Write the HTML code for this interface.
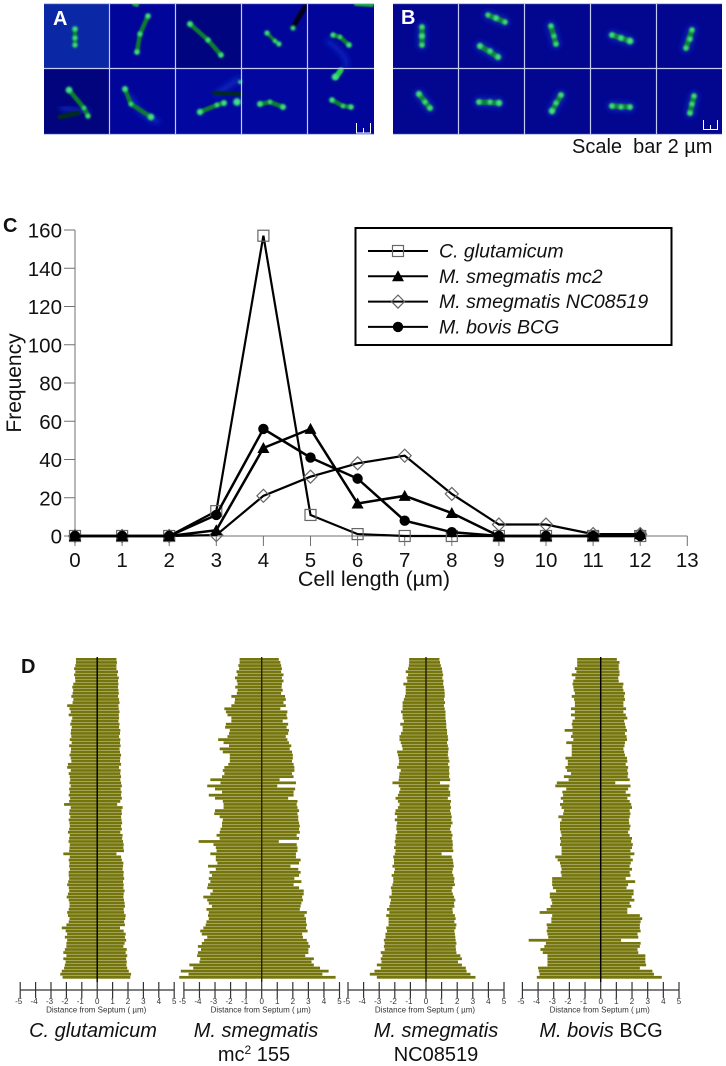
<!DOCTYPE html>
<html>
<head>
<meta charset="utf-8">
<title>Cell length figure</title>
<style>
html,body{margin:0;padding:0;background:#fff;}
svg{display:block;}
text{font-family:"Liberation Sans",sans-serif;}
</style>
</head>
<body>
<svg id="fig" xmlns="http://www.w3.org/2000/svg" width="726" height="1066" viewBox="0 0 726 1066">
<defs>
<filter id="b1" x="-80%" y="-80%" width="260%" height="260%"><feGaussianBlur stdDeviation="1.0"/></filter>
<filter id="b2" x="-50%" y="-50%" width="200%" height="200%"><feGaussianBlur stdDeviation="0.8"/></filter>
<filter id="b3" x="-50%" y="-50%" width="200%" height="200%"><feGaussianBlur stdDeviation="3"/></filter>
<filter id="barsoft" x="-5%" y="-2%" width="110%" height="104%"><feGaussianBlur stdDeviation="0.3"/></filter>
<clipPath id="clipA"><rect x="44" y="3" width="330" height="132"/></clipPath>
<clipPath id="clipB"><rect x="393" y="3" width="329" height="132"/></clipPath>
</defs>

<g id="panelA" clip-path="url(#clipA)">
<rect x="44" y="3" width="330" height="132" fill="#02059a"/>
<rect x="44" y="3" width="66" height="66" fill="#0a28a6"/>
<rect x="176" y="3" width="66" height="66" fill="#00047f"/>
<rect x="44" y="69" width="66" height="66" fill="#01047c"/>
<rect x="242" y="69" width="66" height="66" fill="#0207a0"/>
<rect x="176" y="69" width="66" height="66" fill="#0207a0"/>
<path d="M326 40 Q352 58 345 68" stroke="#0c2ac8" stroke-width="4" fill="none" filter="url(#b3)"/>
<path d="M130 95 Q140 118 160 122" stroke="#0a26c0" stroke-width="5" fill="none" filter="url(#b3)"/>
<path d="M215 95 L240 78" stroke="#0c2ac0" stroke-width="5" fill="none" filter="url(#b3)"/>
<path d="M60 108 L90 112" stroke="#0b28c0" stroke-width="5" fill="none" filter="url(#b3)"/>
<g fill="none" stroke-linecap="round" filter="url(#b2)">
<path d="M293 27 L305 7" stroke="#020414" stroke-width="5"/>
<path d="M214 93 L241 94" stroke="#03291e" stroke-width="4"/>
<path d="M60 117 L78 113" stroke="#032a20" stroke-width="5"/>
<path d="M75 29 L75 45" stroke="#0c7a33" stroke-width="4.5"/>
<path d="M148 16 L140 34 L137 52" stroke="#0c7a33" stroke-width="4.5"/>
<path d="M190 24 L208 40 L221 55" stroke="#0c7a33" stroke-width="4.5"/>
<path d="M267 33 L275 41 L279 44" stroke="#0c7a33" stroke-width="3.5"/>
<path d="M333 35 L340 37 L349 45" stroke="#0c7a33" stroke-width="4.5"/>
<path d="M69 90 L84 108 L88 116" stroke="#0c7a33" stroke-width="4.5"/>
<path d="M125 89 L131 104 L151 117" stroke="#0c7a33" stroke-width="4.5"/>
<path d="M200 112 L217 105 L224 103" stroke="#0c7a33" stroke-width="4.5"/>
<path d="M260 104 L270 102 L283 107" stroke="#0c7a33" stroke-width="4.5"/>
<path d="M332 100 L343 106 L351 107" stroke="#0c7a33" stroke-width="4.5"/>
<path d="M336 77 L341 70" stroke="#1fd04a" stroke-width="5.5"/>
<path d="M356 4 L372 5" stroke="#17a83e" stroke-width="4"/>
<path d="M134 4 L137 5" stroke="#17a83e" stroke-width="4"/>
</g>
<g fill="#45e08a" stroke="#30d070" stroke-width="0.8" filter="url(#b1)">
<circle cx="75" cy="29" r="2.4"/><circle cx="75" cy="38" r="2.2"/><circle cx="75" cy="45" r="2.2"/>
<circle cx="148" cy="16" r="2.4"/><circle cx="140" cy="34" r="2.2"/><circle cx="137" cy="52" r="2.4"/>
<circle cx="190" cy="24" r="2.6"/><circle cx="208" cy="40" r="2.2"/><circle cx="221" cy="55" r="2.4"/>
<circle cx="267" cy="33" r="2.2"/><circle cx="275" cy="41" r="1.8"/><circle cx="279" cy="44" r="2.2"/><circle cx="293" cy="28" r="2.2"/>
<circle cx="333" cy="35" r="2.2"/><circle cx="340" cy="37" r="1.8"/><circle cx="349" cy="45" r="2.4"/>
<circle cx="69" cy="90" r="3"/><circle cx="84" cy="108" r="1.8"/><circle cx="88" cy="116" r="2.2"/>
<circle cx="125" cy="89" r="2.6"/><circle cx="131" cy="104" r="2"/><circle cx="151" cy="117" r="3"/>
<circle cx="200" cy="112" r="2.8"/><circle cx="217" cy="105" r="2"/><circle cx="224" cy="103" r="2.6"/><circle cx="237" cy="102" r="3.5"/><circle cx="240" cy="82" r="1.6"/>
<circle cx="260" cy="104" r="2.6"/><circle cx="270" cy="102" r="1.8"/><circle cx="283" cy="107" r="2.6"/>
<circle cx="332" cy="100" r="2.4"/><circle cx="343" cy="106" r="1.8"/><circle cx="351" cy="107" r="2.4"/><circle cx="335" cy="77" r="3"/>
</g>
<g stroke="#c4cbf0" stroke-width="1.2">
<path d="M109.5 3V135M175.5 3V135M241.5 3V135M307.5 3V135M44 68.5H374M44 3.5H374M44 134.5H374"/>
</g>
<path d="M356.5 123V133H370.5V123M363.5 128V133" fill="none" stroke="#fff" stroke-width="1"/>
</g>
<text x="53" y="25" font-size="20" font-weight="bold" fill="#fff">A</text>

<g id="panelB" clip-path="url(#clipB)">
<rect x="393" y="3" width="329" height="132" fill="#03068f"/>
<g fill="none" stroke="#0b1fb0" stroke-width="11" stroke-linecap="round" filter="url(#b3)">
<path d="M422 27L422 45M488 15L505 22M480 46L498 57M551 26L556 44M612 35L630 41M692 30L686 48M419 94L430 108M479 102L499 103M561 95L552 111M612 106L630 107M694 96L690 113"/>
</g>
<g fill="none" stroke="#0b7f3c" stroke-width="5.5" stroke-linecap="round" filter="url(#b2)">
<path d="M422 27L422 45M488 15L505 22M480 46L498 57M551 26L556 44M612 35L630 41M692 30L686 48M419 94L430 108M479 102L499 103M561 95L552 111M612 106L630 107M694 96L690 113"/>
</g>
<g fill="#45e08a" stroke="#30d070" stroke-width="0.8" filter="url(#b1)">
<circle cx="422" cy="27" r="2.2"/><circle cx="422" cy="36" r="2.6"/><circle cx="422" cy="45" r="2.2"/>
<circle cx="488" cy="15" r="2"/><circle cx="496" cy="18" r="2.6"/><circle cx="505" cy="22" r="2.2"/>
<circle cx="480" cy="46" r="2.6"/><circle cx="490" cy="51" r="2.4"/><circle cx="498" cy="57" r="2.6"/>
<circle cx="551" cy="26" r="2.2"/><circle cx="554" cy="36" r="2"/><circle cx="556" cy="44" r="2.2"/>
<circle cx="612" cy="35" r="2.4"/><circle cx="621" cy="38" r="2.6"/><circle cx="630" cy="41" r="3"/>
<circle cx="692" cy="30" r="2.2"/><circle cx="690" cy="39" r="2.4"/><circle cx="686" cy="48" r="2.2"/>
<circle cx="419" cy="94" r="2.6"/><circle cx="425" cy="102" r="2.2"/><circle cx="430" cy="108" r="2.4"/>
<circle cx="479" cy="102" r="2.4"/><circle cx="490" cy="102" r="2.2"/><circle cx="499" cy="103" r="2.8"/>
<circle cx="561" cy="95" r="2.4"/><circle cx="556" cy="103" r="2.2"/><circle cx="552" cy="111" r="2.8"/>
<circle cx="612" cy="106" r="2.4"/><circle cx="621" cy="107" r="2.2"/><circle cx="630" cy="107" r="2.4"/>
<circle cx="694" cy="96" r="2.2"/><circle cx="692" cy="104" r="2.2"/><circle cx="690" cy="113" r="2.4"/>
</g>
<g stroke="#c4cbf0" stroke-width="1.2">
<path d="M458.5 3V135M524.5 3V135M590.5 3V135M656.5 3V135M393 68.5H722M393 3.5H722M393 134.5H722"/>
</g>
<path d="M703.5 120V129.5H717.5V120M710.5 125V129.5" fill="none" stroke="#fff" stroke-width="1"/>
</g>
<text x="401" y="24" font-size="20" font-weight="bold" fill="#fff">B</text>
<text x="572" y="153" font-size="20" fill="#111" xml:space="preserve">Scale  bar 2 µm</text>

<text x="3" y="232" font-size="20" font-weight="bold" fill="#111">C</text>
<text x="21" y="673" font-size="20" font-weight="bold" fill="#111">D</text>

<g id="chartC"></g>
<g id="chartD"></g>
</svg>

<script>
// ---- Panel C data ----
var lengthCategories = [0,1,2,3,4,5,6,7,8,9,10,11,12];
var xTickLabels = [0,1,2,3,4,5,6,7,8,9,10,11,12,13];
var yTickLabels = [0,20,40,60,80,100,120,140,160];
var freqGlutamicum = [0,0,0,13,157,11,1,0,0,0,0,0,0];
var freqSmegmatisMc2 = [0,0,0,3,46,56,17,21,12,0,0,0,1];
var freqSmegmatisNC = [0,0,0,0.5,21,31,38,42,22,6,6,1,1];
var freqBovis = [0,0,0,11,56,41,30,8,2,0,0,0,0];

// ---- Panel D data: per-cell extent left/right of septum (µm), top row to bottom row ----
var distanceTicks = [-5,-4,-3,-2,-1,0,1,2,3,4,5];
var glutLeft = [-1.38,-1.38,-1.42,-1.5,-1.42,-1.5,-1.44,-1.42,-1.55,-1.62,-1.56,-1.6,-1.68,-1.55,-1.6,-1.95,-1.8,-1.72,-1.85,-1.62,-1.68,-1.75,-1.65,-1.7,-1.72,-1.68,-1.78,-1.66,-1.82,-1.7,-1.72,-1.8,-1.72,-1.68,-1.9,-1.95,-1.72,-1.85,-1.78,-1.75,-1.8,-1.72,-1.82,-1.78,-1.85,-1.76,-1.82,-2.15,-1.72,-1.8,-1.82,-1.75,-1.85,-1.8,-1.78,-1.82,-1.9,-1.78,-1.82,-1.86,-1.78,-1.8,-1.82,-2.2,-1.78,-1.85,-1.8,-1.82,-1.78,-1.85,-1.85,-1.82,-1.88,-1.95,-1.85,-1.82,-1.9,-1.98,-1.85,-1.8,-1.8,-1.85,-1.95,-1.9,-1.8,-1.85,-2.0,-2.3,-2.05,-1.95,-2.1,-1.95,-2.0,-2.0,-2.1,-2.2,-2.0,-2.2,-2.05,-2.1,-2.15,-2.3,-2.4,-2.25];
var glutRight = [1.25,1.28,1.25,1.25,1.35,1.3,1.4,1.35,1.38,1.35,1.38,1.4,1.35,1.42,1.45,1.38,1.4,1.45,1.4,1.42,1.38,1.45,1.42,1.5,1.48,1.42,1.5,1.48,1.52,1.45,1.48,1.55,1.5,1.48,1.55,1.42,1.52,1.5,1.55,1.5,1.55,1.6,1.52,1.58,1.55,1.6,1.5,1.3,1.65,1.58,1.6,1.55,1.58,1.62,1.55,1.6,1.5,1.65,1.62,1.68,1.72,1.7,1.74,1.25,1.55,1.6,1.7,1.68,1.65,1.72,1.7,1.75,1.68,1.72,1.7,1.78,1.72,1.7,1.74,1.78,1.8,1.72,1.75,1.85,1.82,1.75,1.8,1.48,1.72,1.85,1.8,1.88,1.78,1.7,1.92,1.85,1.95,1.88,1.92,1.9,1.95,2.05,2.2,2.15];
var mc2Left = [-1.42,-1.42,-1.5,-1.45,-1.62,-1.55,-1.72,-1.6,-1.55,-1.7,-1.55,-1.6,-1.95,-1.72,-1.75,-1.95,-2.4,-2.3,-2.2,-1.95,-1.95,-2.3,-2.35,-2.05,-2.1,-2.2,-2.8,-2.45,-2.1,-2.7,-2.5,-2.05,-2.05,-2.05,-2.15,-2.4,-2.5,-2.4,-2.55,-3.3,-2.65,-3.5,-3.0,-2.55,-3.4,-3.0,-2.5,-2.45,-2.45,-3.0,-3.05,-2.7,-2.5,-2.55,-2.55,-2.65,-2.7,-2.9,-2.7,-4.05,-3.1,-2.95,-2.9,-3.3,-2.95,-2.95,-2.85,-3.45,-2.95,-3.35,-3.2,-3.4,-3.3,-3.45,-3.5,-3.15,-3.3,-3.75,-3.5,-3.4,-3.2,-3.55,-3.4,-3.45,-3.4,-3.55,-3.6,-3.75,-3.95,-3.85,-3.5,-3.7,-3.85,-4.1,-3.9,-4.1,-4.15,-3.95,-4.0,-4.65,-4.4,-5.2,-4.7,-5.3];
var mc2Right = [1.1,1.2,1.25,1.3,1.25,1.4,1.3,1.4,1.3,1.28,1.35,1.25,1.5,1.55,1.4,1.55,1.2,1.65,1.6,1.65,1.35,1.7,1.6,1.75,1.7,1.55,1.65,1.75,1.9,1.8,1.95,2.0,2.0,1.95,2.05,2.1,2.1,1.95,2.05,1.15,2.2,1.0,2.15,2.05,2.05,1.7,2.3,2.25,2.3,2.4,2.3,2.35,2.35,2.4,2.45,2.4,2.45,2.25,2.4,1.1,2.25,2.3,2.3,2.2,2.2,2.5,2.4,1.85,2.35,2.5,2.4,2.1,2.55,2.05,2.4,2.7,2.7,2.6,2.65,2.55,2.5,2.45,2.9,2.75,2.85,2.85,2.9,2.85,2.95,2.6,2.65,2.9,3.0,3.1,3.0,3.0,2.8,3.35,3.2,3.35,3.75,4.3,3.9,4.75];
var ncLeft = [-1.08,-1.08,-1.1,-1.15,-1.3,-1.15,-1.25,-1.2,-1.45,-1.3,-1.3,-1.3,-1.35,-1.42,-1.5,-1.5,-1.5,-1.6,-1.5,-1.5,-1.42,-1.65,-1.5,-1.5,-1.6,-1.7,-1.7,-1.62,-1.55,-1.5,-1.85,-1.8,-1.75,-1.72,-1.75,-1.85,-1.62,-1.7,-1.72,-1.75,-2.15,-1.75,-1.65,-1.72,-1.8,-1.95,-1.8,-1.7,-1.8,-1.95,-2.0,-1.85,-2.0,-1.85,-1.9,-1.9,-1.85,-1.95,-1.95,-2.0,-1.95,-2.05,-1.95,-2.0,-2.1,-2.05,-2.05,-2.15,-2.0,-2.05,-2.2,-2.1,-2.1,-2.15,-2.25,-2.2,-2.2,-2.35,-2.25,-2.3,-2.35,-2.5,-2.35,-2.55,-2.4,-2.4,-2.4,-2.55,-2.5,-2.6,-2.6,-2.7,-2.65,-2.7,-2.65,-2.9,-2.8,-2.9,-2.85,-3.15,-2.9,-3.3,-3.6,-3.15];
var ncRight = [0.86,0.9,0.95,1.02,1.05,1.1,1.05,1.12,1.1,1.15,1.18,1.2,1.2,1.15,1.22,1.15,1.2,1.25,1.25,1.25,1.28,1.3,1.3,1.35,1.35,1.4,1.42,1.35,1.4,1.45,1.42,1.4,1.45,1.5,1.42,1.5,1.48,1.5,1.48,1.55,0.9,1.5,1.45,1.55,1.55,1.4,1.6,1.55,1.6,1.55,1.6,1.65,1.62,1.7,1.6,1.55,1.62,1.7,1.65,1.7,1.72,1.7,1.75,1.0,1.65,1.72,1.75,1.78,1.72,1.68,1.75,1.82,1.8,1.85,1.7,1.65,1.72,1.8,1.88,1.8,1.82,1.7,1.72,1.85,1.9,1.82,1.95,1.9,1.82,1.85,1.88,1.9,1.95,1.9,1.92,1.95,2.2,2.3,2.05,2.3,2.55,2.6,2.85,3.17];
var bovisLeft = [-1.5,-1.5,-1.5,-1.65,-1.55,-1.85,-1.62,-1.75,-1.8,-1.75,-1.72,-1.65,-1.85,-1.7,-1.65,-1.65,-1.9,-1.65,-1.9,-1.65,-1.8,-1.85,-1.8,-2.3,-1.8,-1.9,-1.75,-2.2,-1.85,-1.85,-1.85,-1.85,-2.25,-2.1,-2.1,-2.25,-2.15,-1.9,-2.35,-2.05,-2.8,-2.9,-2.2,-2.45,-2.4,-2.55,-2.4,-2.6,-2.5,-2.35,-2.4,-2.7,-2.5,-2.6,-2.6,-2.6,-2.55,-2.5,-2.6,-2.55,-2.6,-2.5,-2.5,-2.5,-2.9,-2.75,-2.6,-2.55,-2.5,-2.55,-2.5,-3.1,-3.1,-3.1,-3.05,-2.85,-3.25,-3.25,-3.15,-3.1,-3.2,-3.45,-3.9,-3.1,-3.15,-3.15,-3.45,-3.4,-3.45,-3.4,-3.35,-4.6,-3.5,-3.6,-3.85,-3.7,-3.4,-3.4,-3.4,-3.4,-4.0,-3.95,-3.9,-4.08];
var bovisRight = [1.03,1.2,1.15,1.15,1.2,1.2,1.12,1.15,1.45,1.4,1.45,1.55,1.5,1.55,1.45,1.45,1.62,1.45,1.6,1.7,1.5,1.55,1.6,1.68,1.55,1.65,1.68,1.55,1.52,1.45,1.5,1.55,1.68,1.7,1.6,1.75,1.7,1.75,1.72,1.85,0.93,1.9,1.75,1.6,1.9,1.7,1.85,1.95,2.0,1.85,1.9,1.85,1.8,1.82,1.9,1.85,1.75,1.85,2.0,1.95,2.05,2.0,1.9,2.15,1.9,2.05,1.92,1.85,2.0,1.85,1.9,1.6,2.2,1.75,1.65,2.1,2.1,1.98,2.15,1.85,1.95,1.7,1.7,2.5,2.65,2.55,2.5,2.5,2.55,2.35,2.4,1.3,2.55,2.5,2.35,2.4,2.85,2.85,2.85,2.9,2.5,3.3,3.4,3.9];

var svgNS = "http://www.w3.org/2000/svg";
function mk(parent, tag, attrs, txt){
  var e = document.createElementNS(svgNS, tag);
  for (var k in attrs) e.setAttribute(k, attrs[k]);
  if (txt !== undefined) e.textContent = txt;
  parent.appendChild(e);
  return e;
}

// ---- Panel C axes ----
var cg = document.getElementById('chartC');
function xC(v){ return 75 + v * 47.1; }
function yC(v){ return 536 - v * 1.9125; }

var yAxis = mk(cg, 'line', {x1:xC(0), x2:xC(0), y1:yC(160), y2:yC(0), stroke:'#707070', 'stroke-width':1});


var xAxis = mk(cg, 'line', {x1:xC(0), x2:xC(13), y1:yC(0), y2:yC(0), stroke:'#707070', 'stroke-width':1});



yTickLabels.forEach(function(v){
  var t = mk(cg, 'line', {x1:xC(0)-11, x2:xC(0), y1:yC(v), y2:yC(v), stroke:'#707070', 'stroke-width':1});
  
  
  var l = mk(cg, 'text', {x:62, y:yC(v)+7.5, 'font-size':20.5, 'text-anchor':'end', fill:'#111'}, v);
  
  
});
xTickLabels.forEach(function(v){
  var t = mk(cg, 'line', {x1:xC(v), x2:xC(v), y1:yC(0), y2:yC(0)+10, stroke:'#707070', 'stroke-width':1});
  
  
  var l = mk(cg, 'text', {x:xC(v), y:567, 'font-size':20.5, 'text-anchor':'middle', fill:'#111'}, v);
  
  
});
var xTitle = mk(cg, 'text', {x:374, y:586, 'font-size':21.5, 'text-anchor':'middle', fill:'#111'}, 'Cell length (µm)');


var yTitle = mk(cg, 'text', {x:0, y:0, 'font-size':21, 'text-anchor':'middle', fill:'#111', transform:'translate(21 383) rotate(-90)'}, 'Frequency');



function marker(parent, kind, x, y){
  if (kind === 'square') return mk(parent, 'rect', {x:x-5.5, y:y-5.5, width:11, height:11, fill:'none', stroke:'#666', 'stroke-width':1.2});
  if (kind === 'diamond') return mk(parent, 'path', {d:'M'+x+' '+(y-6.5)+'L'+(x+6.5)+' '+y+'L'+x+' '+(y+6.5)+'L'+(x-6.5)+' '+y+'Z', fill:'none', stroke:'#666', 'stroke-width':1.2});
  if (kind === 'triangle') return mk(parent, 'path', {d:'M'+x+' '+(y-6)+'L'+(x+6)+' '+(y+5)+'L'+(x-6)+' '+(y+5)+'Z', fill:'#000'});
  return mk(parent, 'circle', {cx:x, cy:y, r:5.2, fill:'#000'});
}

var seriesOrder = [
  {values:freqGlutamicum, kind:'square', width:2.2, slug:'series-c-glutamicum'},
  {values:freqSmegmatisNC, kind:'diamond', width:2.2, slug:'series-m-smegmatis-nc08519'},
  {values:freqSmegmatisMc2, kind:'triangle', width:2.5, slug:'series-m-smegmatis-mc2'},
  {values:freqBovis, kind:'circle', width:2.5, slug:'series-m-bovis-bcg'}
];
seriesOrder.forEach(function(s){
  var g = mk(cg, 'g', {});
  
  
  var pts = s.values.map(function(v,i){ return xC(lengthCategories[i]) + ',' + yC(v); }).join(' ');
  mk(g, 'polyline', {points:pts, fill:'none', stroke:'#000', 'stroke-width':s.width, 'stroke-linejoin':'miter'});
  s.values.forEach(function(v,i){
    var m = marker(g, s.kind, xC(lengthCategories[i]), yC(v));
    
    
  });
});

// ---- Legend ----
var lg = mk(cg, 'g', {});


mk(lg, 'rect', {x:355.5, y:228, width:316, height:117, fill:'#fff', stroke:'#000', 'stroke-width':2});
var legendLabels = ['C. glutamicum','M. smegmatis mc2','M. smegmatis NC08519','M. bovis BCG'];
var legendKinds = ['square','triangle','diamond','circle'];
legendLabels.forEach(function(name,i){
  var yy = 251 + i * 25.3;
  var e = mk(lg, 'g', {});
  
  
  mk(e, 'line', {x1:368, x2:428, y1:yy, y2:yy, stroke:'#000', 'stroke-width':2});
  marker(e, legendKinds[i], 398, yy);
  mk(e, 'text', {x:439, y:yy+6.5, 'font-size':19.5, 'font-style':'italic', fill:'#111'}, name);
});

// ---- Panel D ----
var dg = document.getElementById('chartD');
var dPanels = [
  {zero:97.2, scale:15.4, left:glutLeft, right:glutRight, slug:'septum-chart-c-glutamicum', lineColor:'#000'},
  {zero:261.7, scale:15.56, left:mc2Left, right:mc2Right, slug:'septum-chart-m-smegmatis-mc2', lineColor:'#2c2400'},
  {zero:426, scale:15.6, left:ncLeft, right:ncRight, slug:'septum-chart-m-smegmatis-nc08519', lineColor:'#241e00'},
  {zero:600.7, scale:15.66, left:bovisLeft, right:bovisRight, slug:'septum-chart-m-bovis-bcg', lineColor:'#000'}
];
dPanels.forEach(function(p){
  function xD(v){ return p.zero + v * p.scale; }
  var g = mk(dg, 'g', {});
  
  
  var bars = mk(g, 'g', {filter:'url(#barsoft)'});
  
  
  var n = p.left.length;
  function yD(i){ return 658 + i * (321 / n); }
  for (var i = 0; i < n; i++){
    var b = mk(bars, 'rect', {x:xD(p.left[i]), y:yD(i), width:xD(p.right[i]) - xD(p.left[i]), height:2.75, fill:'#757508'});
    
    
  }
  var cl = mk(g, 'line', {x1:p.zero, x2:p.zero, y1:657, y2:982, stroke:p.lineColor, 'stroke-width':1.4});
  
  
  var ax = mk(g, 'line', {x1:xD(-5), x2:xD(5), y1:990, y2:990, stroke:'#333', 'stroke-width':1.2});
  
  
  distanceTicks.forEach(function(v){
    var t = mk(g, 'line', {x1:xD(v), x2:xD(v), y1:982, y2:998, stroke:'#333', 'stroke-width':1.2});
    
    
    var l = mk(g, 'text', {x:xD(v) - (v < 0 ? 1.5 : 0), y:1004, 'font-size':8, 'text-anchor':'middle', fill:'#333'}, v);
    
    
  });
  var ti = mk(g, 'text', {x:p.zero - 1, y:1012.5, 'font-size':8, 'text-anchor':'middle', fill:'#333'}, 'Distance from Septum ( µm)');
  
  
});

var taxa = [
  {x:93, y:1037, html:'<tspan font-style="italic">C. glutamicum</tspan>', slug:'label-c-glutamicum'},
  {x:256, y:1037, html:'<tspan font-style="italic">M. smegmatis</tspan>', slug:'label-m-smegmatis-mc2'},
  {x:254, y:1061, html:'mc<tspan font-size="12" dy="-7">2</tspan><tspan dy="7"> 155</tspan>', slug:'label-mc2-155'},
  {x:436, y:1037, html:'<tspan font-style="italic">M. smegmatis</tspan>', slug:'label-m-smegmatis-nc'},
  {x:436, y:1061, html:'NC08519', slug:'label-nc08519'},
  {x:601, y:1037, html:'<tspan font-style="italic">M. bovis</tspan> BCG', slug:'label-m-bovis-bcg'}
];
taxa.forEach(function(t){
  var e = mk(dg, 'text', {x:t.x, y:t.y, 'font-size':20, 'text-anchor':'middle', fill:'#111'});
  e.innerHTML = t.html;
  
  
});
</script>
</body>
</html>
